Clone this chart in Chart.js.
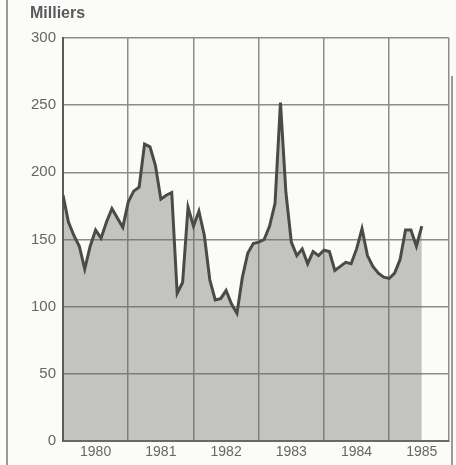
<!DOCTYPE html>
<html>
<head>
<meta charset="utf-8">
<script src="https://cdn.jsdelivr.net/npm/chart.js@4.4.1/dist/chart.umd.min.js"></script>
<style>
  html, body { margin: 0; padding: 0; background: #fbfbf9; }
  #wrap { width: 456px; height: 465px; position: relative; }
</style>
</head>
<body>
<div id="wrap"><canvas id="myChart"></canvas></div>
<script>
  // monthly values, Jan 1980 onward (thousands)
  const startYear = 1980;
  const monthlyValues = [
    183, 163, 153, 145, 128, 145, 157, 151, 163, 173, 166, 159,
    178, 186, 189, 221, 219, 205, 180, 183, 185, 110, 118, 174,
    160, 171, 153, 120, 105, 106, 112, 102, 95, 122, 140, 147,
    148, 150, 160, 177, 252, 185, 148, 138, 143, 132, 141, 138,
    142, 141, 127, 130, 133, 132, 143, 158, 138, 130, 125, 122,
    121, 125, 135, 157, 157, 145, 160
  ];
  const yearLabels = ["1980", "1981", "1982", "1983", "1984", "1985"];
  const yTicks = [0, 50, 100, 150, 200, 250, 300];
  const unitLabel = "Milliers";

  const xMax = startYear + yearLabels.length - 1 + 11 / 12;
  const gridGray = "#8c8c8a";

  const framePlugin = {
    id: "frame",
    beforeDraw(chart) {
      const ctx = chart.ctx;
      ctx.save();
      ctx.strokeStyle = "#7a7a78";
      ctx.lineWidth = 1.5;
      ctx.beginPath();
      ctx.moveTo(7, 0);
      ctx.lineTo(7, chart.height);
      ctx.moveTo(452, 76);
      ctx.lineTo(452, chart.height);
      ctx.stroke();
      ctx.restore();
    },
    afterDraw(chart) {
      const ctx = chart.ctx;
      const area = chart.chartArea;
      ctx.save();
      ctx.fillStyle = "#5a5a5a";
      ctx.font = "bold 16px 'Liberation Sans', Arial, sans-serif";
      ctx.textBaseline = "middle";
      ctx.fillText(unitLabel, area.left - 33, area.top - 24);
      ctx.restore();
    }
  };

  new Chart(document.getElementById("myChart"), {
    type: "line",
    data: {
      datasets: [{
        data: monthlyValues.map((v, i) => ({ x: startYear + i / 12, y: v })),
        borderColor: "#4a4b48",
        borderWidth: 3,
        backgroundColor: "rgba(100,100,98,0.37)",   // lets the grid show through
        fill: "origin",
        pointRadius: 0,
        tension: 0
      }]
    },
    options: {
      responsive: true,
      maintainAspectRatio: false,
      animation: false,
      layout: { padding: { top: 38, right: 7, left: 0, bottom: 0 } },
      plugins: { legend: { display: false }, tooltip: { enabled: false } },
      scales: {
        x: {
          type: "linear",
          min: startYear,
          max: xMax,
          afterBuildTicks(scale) {
            const t = [];
            yearLabels.forEach((_, i) => {
              t.push({ value: startYear + i });
              t.push({ value: startYear + i + 0.5 });
            });
            t.push({ value: xMax });
            scale.ticks = t;
          },
          afterFit(scale) { scale.height = 24; },
          ticks: {
            autoSkip: false,
            maxRotation: 0,
            padding: 3,
            color: "#666",
            font: { family: "'Liberation Sans', Arial, sans-serif", size: 14 },
            callback(value) {
              if (Math.abs(value - Math.floor(value) - 0.5) < 1e-6) {
                return yearLabels[Math.floor(value) - startYear];
              }
              return "";
            }
          },
          grid: {
            drawTicks: false,
            lineWidth: 1.5,
            color(ctx) {
              const v = ctx.tick ? ctx.tick.value : 0;
              return Number.isInteger(v) || v === xMax ? gridGray : "rgba(0,0,0,0)";
            }
          },
          border: { display: true, color: "#6a6a68", width: 2 }
        },
        y: {
          min: 0,
          max: 300,
          afterBuildTicks(scale) {
            scale.ticks = yTicks.map(v => ({ value: v }));
          },
          afterFit(scale) { scale.width = 63; },
          ticks: {
            padding: 7,
            color: "#666",
            font: { family: "'Liberation Sans', Arial, sans-serif", size: 15 }
          },
          grid: { drawTicks: false, lineWidth: 1.5, color: gridGray },
          border: { display: true, color: "#5a5a58", width: 2 }
        }
      }
    },
    plugins: [framePlugin]
  });
</script>
</body>
</html>
